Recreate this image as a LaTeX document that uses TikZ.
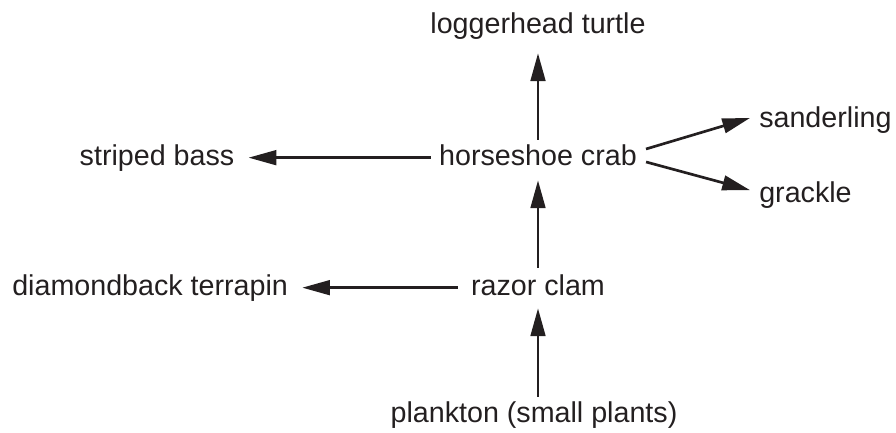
\documentclass[tikz,border=0pt]{standalone}
\usepackage{fontspec}
\setmainfont{Liberation Sans}
\usepackage{xcolor}
\usepackage{tikz}
\usetikzlibrary{arrows.meta, positioning}
\definecolor{inkblack}{HTML}{231F20}
\tikzset{
  foodnode/.style={
    anchor=base, inner sep=0pt, text=inkblack,
    font=\fontsize{21.5}{26}\selectfont,
    text height=15.5pt, text depth=4.5pt
  },
  foodarrow/.style={-{Triangle[length=20.8pt, width=11pt]}, line width=2pt, color=inkblack},
}

\begin{document}
\begin{tikzpicture}[x=0.75pt, y=-0.75pt]
  \useasboundingbox (0,0) rectangle (896,432);

  \node[foodnode] (turtle) at (538,33) {loggerhead turtle};
  \node[foodnode] (crab) at (538,165) {horseshoe crab};
  \node[foodnode] (bass) at (157,165) {striped bass};
  \node[foodnode, anchor=base west] (sanderling) at (759,127) {sanderling};
  \node[foodnode, anchor=base west] (grackle) at (759,202) {grackle};
  \node[foodnode, anchor=base west] (terrapin) at (12,295) {diamondback terrapin};
  \node[foodnode] (clam) at (538,295) {razor clam};
  \node[foodnode] (plankton) at (534,422) {plankton (small plants)};

  \draw[foodarrow, shorten <=3.3pt, shorten >=10.5pt] (crab.north) -- (turtle.south);
  \draw[foodarrow, shorten <=6pt, shorten >=10.5pt] (crab.west) -- (bass.east);
  \draw[foodarrow, shorten <=7pt, shorten >=7pt] ([yshift=4.5pt]crab.east) -- ([yshift=3.3pt]sanderling.west);
  \draw[foodarrow, shorten <=7pt, shorten >=7pt] ([yshift=-1.4pt]crab.east) -- ([yshift=1.6pt]grackle.west);
  \draw[foodarrow, shorten <=4.8pt, shorten >=6.8pt] (clam.north) -- (crab.south);
  \draw[foodarrow, shorten <=9.8pt, shorten >=10.5pt] (clam.west) -- (terrapin.east);
  \draw[foodarrow, shorten <=3.3pt, shorten >=5.3pt] (plankton.north -| clam.south) -- (clam.south);
\end{tikzpicture}
\end{document}
